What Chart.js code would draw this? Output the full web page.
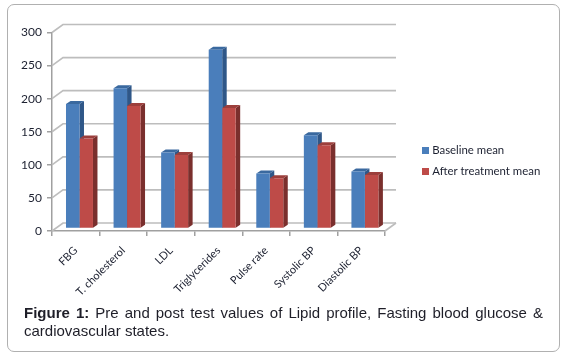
<!DOCTYPE html>
<html>
<head>
<meta charset="utf-8">
<style>
html,body{margin:0;padding:0;background:#fff;width:566px;height:359px;overflow:hidden}
#frame{position:absolute;left:7px;top:4px;width:551px;height:346px;border:1.5px solid #b0b0b0;border-radius:7px}
#c{position:absolute;left:0;top:0}
#cap{position:absolute;left:24px;top:304px;width:519px;font:15px/18px "Liberation Sans",Arial,sans-serif;color:#1e1e28;text-align:justify}
</style>
<script src="https://cdn.jsdelivr.net/npm/chart.js@4"></script>
</head>
<body>
<div id="frame"></div>
<canvas id="c" width="566" height="359"></canvas>
<div id="cap"><b>Figure 1:</b> Pre and post test values of Lipid profile, Fasting blood glucose &amp; cardiovascular states.</div>
<script>
const categories = ["FBG","T. cholesterol","LDL","Triglycerides","Pulse rate","Systolic BP","Diastolic BP"];
const baselineMean = [188,212,115,270,83,141,86];
const afterTreatmentMean = [136,185,111,182,76,126,81];
const yTicks = [0,50,100,150,200,250,300];
const seriesColors = ["#4a7ebb","#be4b48"];

const DEPTH_X = 11, DEPTH_Y = 8;       // wall depth
const BAR_DX = 3.7, BAR_DY = -2.5;     // bars stand inside the floor
const SIDE_X = 4.5, SIDE_Y = 3;        // bar depth
const sideColors = ["#2f5788","#7a2f2d"];
const topColors  = ["#3a699f","#9c3f3c"];
const textColor = "#1c2030";

function swatch(color){
  const s = document.createElement("canvas");
  s.width = 7; s.height = 7;
  const g = s.getContext("2d");
  g.fillStyle = color; g.fillRect(0,0,7,7);
  return s;
}

const walls = {
  id:"walls",
  beforeDatasetsDraw(chart){
    const {ctx,scales:{x,y},chartArea:a} = chart;
    ctx.save();
    ctx.lineWidth = 1.6;
    ctx.strokeStyle = "#bdbdbd";
    yTicks.forEach(v=>{
      const p = y.getPixelForValue(v);
      ctx.beginPath();
      ctx.moveTo(a.left,p);
      ctx.lineTo(a.left+DEPTH_X,p-DEPTH_Y);
      ctx.lineTo(a.right+DEPTH_X,p-DEPTH_Y);
      ctx.stroke();
    });
    const p0 = y.getPixelForValue(0);
    ctx.beginPath();
    ctx.moveTo(a.right,p0);
    ctx.lineTo(a.right+DEPTH_X,p0-DEPTH_Y);
    ctx.stroke();
    // 3D sides
    chart.data.datasets.forEach((d,i)=>{
      chart.getDatasetMeta(i).data.forEach(el=>{
        const l = el.x-el.width/2+BAR_DX, r = el.x+el.width/2+BAR_DX;
        const t = el.y+BAR_DY, b = el.base+BAR_DY;
        ctx.fillStyle = sideColors[i];
        ctx.beginPath();
        ctx.moveTo(r,t);ctx.lineTo(r+SIDE_X,t-SIDE_Y);ctx.lineTo(r+SIDE_X,b-SIDE_Y);ctx.lineTo(r,b);
        ctx.closePath();ctx.fill();
        ctx.fillStyle = topColors[i];
        ctx.beginPath();
        ctx.moveTo(l,t);ctx.lineTo(l+SIDE_X,t-SIDE_Y);ctx.lineTo(r+SIDE_X,t-SIDE_Y);ctx.lineTo(r,t);
        ctx.closePath();ctx.fill();
      });
    });
    ctx.restore();
    ctx.save();
    ctx.translate(BAR_DX,BAR_DY);
  },
  afterDatasetsDraw(chart){ chart.ctx.restore(); },
  afterLayout(chart){
    const lg = chart.legend;
    const w = lg.width, h = lg.height;
    lg.left = 415; lg.right = 415+w; lg.top = 135.5; lg.bottom = 135.5+h;
  }
};

new Chart(document.getElementById("c"),{
  type:"bar",
  data:{labels:categories,datasets:[
    {label:"Baseline mean",data:baselineMean,backgroundColor:seriesColors[0]},
    {label:"After treatment mean",data:afterTreatmentMean,backgroundColor:seriesColors[1]}
  ]},
  plugins:[walls],
  options:{
    responsive:false,animation:false,
    layout:{padding:{left:0,top:32.5,right:181,bottom:0}},
    datasets:{bar:{categoryPercentage:0.567,barPercentage:1}},
    plugins:{
      title:{display:false},tooltip:{enabled:false},
      legend:{position:"chartArea",align:"start",labels:{
        font:{family:"Lato",size:11.4},color:textColor,
        usePointStyle:true,pointStyleWidth:2,boxHeight:7,padding:9.5,
        generateLabels(chart){
          const items = Chart.defaults.plugins.legend.labels.generateLabels(chart);
          items.forEach((it,i)=>{it.pointStyle = swatch(seriesColors[i]);});
          return items;
        }
      }}
    },
    scales:{
      x:{
        afterFit(s){s.height=128;},
        grid:{drawOnChartArea:false,drawTicks:true,tickLength:5,color:"#a0a0a0",lineWidth:1.5},
        border:{color:"#a0a0a0",width:1.5},
        ticks:{maxRotation:45,minRotation:45,autoSkip:false,padding:8,color:textColor,font:{family:"Lato",size:11}}
      },
      y:{
        min:0,max:300,
        afterFit(s){s.width=52;},
        afterBuildTicks(s){s.ticks=yTicks.map(v=>({value:v}));},
        grid:{drawOnChartArea:false,drawTicks:true,tickLength:5,color:"#a0a0a0",lineWidth:1.5},
        border:{color:"#a0a0a0",width:1.5},
        ticks:{padding:5,color:textColor,font:{family:"Lato",size:12}}
      }
    }
  }
});
</script>
</body>
</html>
